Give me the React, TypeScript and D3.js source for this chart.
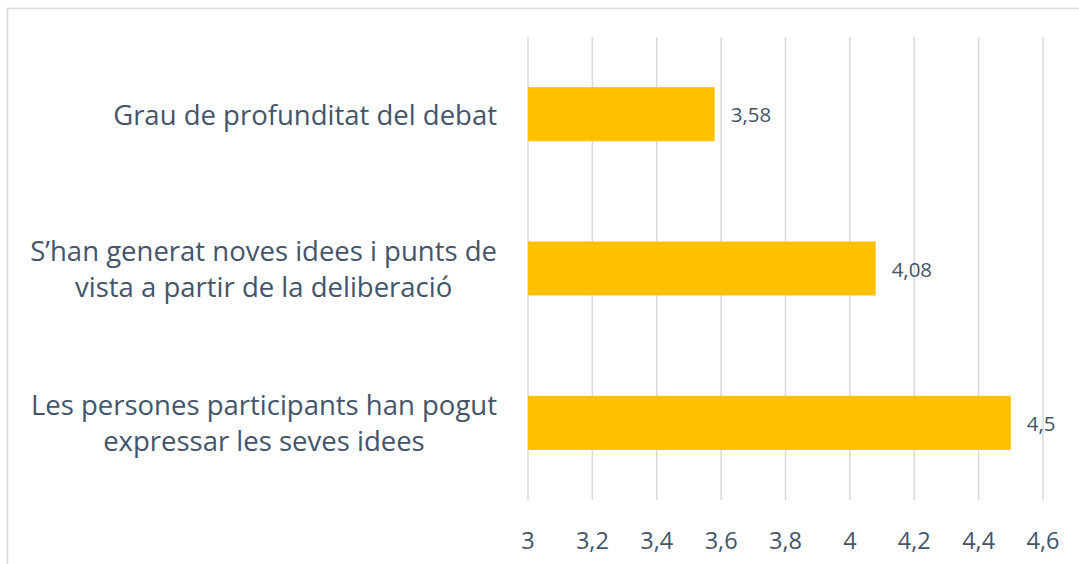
import React, { useEffect, useRef } from "react";
import * as d3 from "d3";

const categories = [
  ["Grau de profunditat del debat"],
  ["S’han generat noves idees i punts de", "vista a partir de la deliberació"],
  ["Les persones participants han pogut", "expressar les seves idees"],
];
const values = [3.58, 4.08, 4.5];
const xTicks = [3, 3.2, 3.4, 3.6, 3.8, 4, 4.2, 4.4, 4.6];

const fmt = (v: number) => String(v).replace(".", ",");

export default function App() {
  const ref = useRef<SVGSVGElement>(null);

  useEffect(() => {
    const svg = d3.select(ref.current);
    svg.selectAll("*").remove();

    const width = 1079;
    const height = 564;
    const font = "'Open Sans', Lato, sans-serif";
    const textColor = "#44546A";

    svg
      .append("rect")
      .attr("x", 7.5)
      .attr("y", 8.5)
      .attr("width", width + 20)
      .attr("height", height + 20)
      .attr("fill", "#fff")
      .attr("stroke", "#d9d9d9")
      .attr("stroke-width", 1.5);

    const plot = { left: 528, right: 1043, top: 37, bottom: 500 };

    const x = d3.scaleLinear().domain([3, 4.6]).range([plot.left, plot.right]);
    const y = d3
      .scaleBand<number>()
      .domain(values.map((_, i) => i))
      .range([plot.top, plot.bottom])
      .paddingInner(0.65)
      .paddingOuter(0.325);

    svg
      .append("g")
      .selectAll("line")
      .data(xTicks)
      .join("line")
      .attr("x1", (d) => x(d))
      .attr("x2", (d) => x(d))
      .attr("y1", plot.top)
      .attr("y2", plot.bottom)
      .attr("stroke", "#d9d9d9")
      .attr("stroke-width", 1.5);

    svg
      .append("g")
      .selectAll("text")
      .data(xTicks)
      .join("text")
      .attr("x", (d) => x(d))
      .attr("y", 540)
      .attr("text-anchor", "middle")
      .attr("dominant-baseline", "central")
      .attr("font-family", font)
      .attr("font-size", 23.5)
      .attr("fill", textColor)
      .text((d) => fmt(d));

    svg
      .append("g")
      .selectAll("rect")
      .data(values)
      .join("rect")
      .attr("x", x(3))
      .attr("y", (_, i) => y(i)!)
      .attr("width", (d) => x(d) - x(3))
      .attr("height", y.bandwidth())
      .attr("fill", "#FFC000");

    svg
      .append("g")
      .selectAll("text")
      .data(values)
      .join("text")
      .attr("x", (d) => x(d) + 16)
      .attr("y", (_, i) => y(i)! + y.bandwidth() / 2)
      .attr("dominant-baseline", "central")
      .attr("font-family", font)
      .attr("font-size", 20.5)
      .attr("fill", textColor)
      .text((d) => fmt(d));

    // multi-line labels: lines centred on each other, block right-aligned
    const lineH = 36;
    const labelRight = 497;
    const labels = svg
      .append("g")
      .selectAll("text")
      .data(categories)
      .join("text")
      .attr("text-anchor", "middle")
      .attr("font-family", font)
      .attr("font-size", 27.5)
      .attr("fill", textColor);

    labels.each(function (lines, i) {
      const cy = y(i)! + y.bandwidth() / 2;
      const start = cy - ((lines.length - 1) * lineH) / 2;
      const t = d3.select(this);
      const spans = t
        .selectAll("tspan")
        .data(lines)
        .join("tspan")
        .attr("y", (_, j) => start + j * lineH)
        .attr("dominant-baseline", "central")
        .text((d) => d);
      let maxW = 0;
      spans.each(function () {
        maxW = Math.max(maxW, (this as SVGTSpanElement).getComputedTextLength());
      });
      spans.attr("x", labelRight - maxW / 2);
    });
  }, []);

  return (
    <svg
      ref={ref}
      width={1079}
      height={564}
      style={{ position: "absolute", left: 0, top: 0 }}
    />
  );
}
